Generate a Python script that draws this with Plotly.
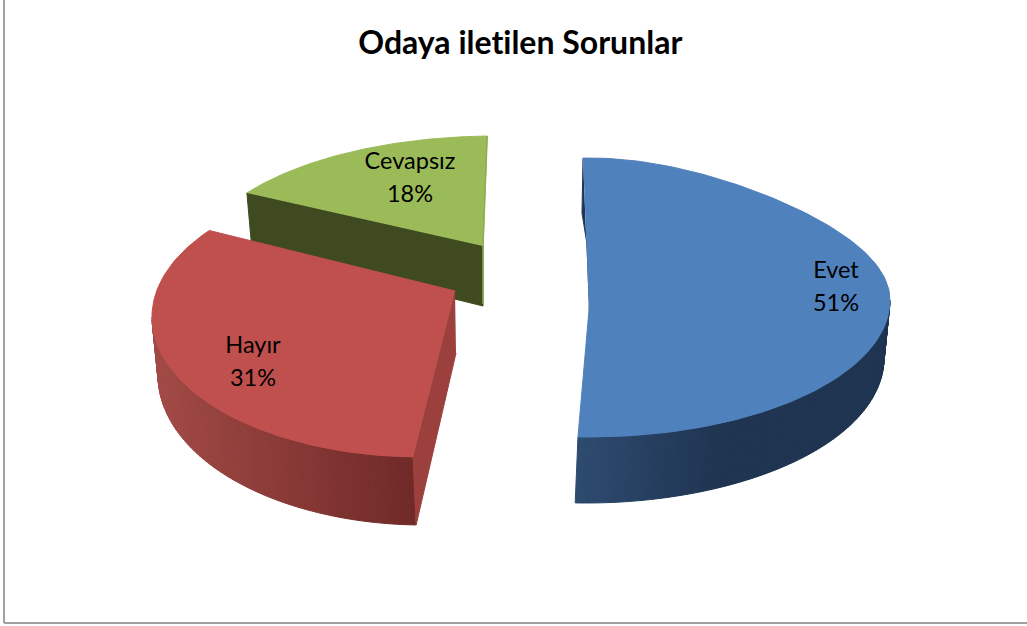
import numpy as np
import plotly.graph_objects as go

categories = ["Evet", "Hayır", "Cevapsız"]
values = [51, 31, 18]
title_text = "Odaya iletilen Sorunlar"

top_colors = ["#4f81bd", "#c0504d", "#9bbb59"]
side_left = [(46, 75, 112), (162, 74, 70), (63, 74, 32)]
side_right = [(30, 52, 80), (112, 42, 40), (63, 74, 32)]
inner_colors = ["#1f3553", "#9c403d", "#3f4a20"]

# projection of each exploded slice onto the picture:
# top ellipse, far-side narrowing, angle remap, apex, and the lower rim ellipse
proj = {
    "Evet": dict(cx=589, cy=300, rx=301, ry_far=142, ry_near=137, k=0.24, start=None, scale=1.0,
                 ax=589, ay=310, bcy=358, brx=295, bry=145, shift=-3),
    "Hayır": dict(cx=420, cy=317, rx=268, ry_far=140, ry_near=140, k=0.0, start=181.5, scale=1.135,
                  ax=455, ay=291, bcy=375, brx=262, bry=150, shift=3),
    "Cevapsız": dict(cx=495, cy=266, rx=300, ry_far=130, ry_near=130, k=0.0, start=304.2, scale=0.838,
                     ax=483, ay=246, bcy=324, brx=300, bry=130, shift=0),
}
rotation = -1.5
label_pos = {"Evet": (836, 272), "Hayır": (253, 347), "Cevapsız": (410, 163)}
label_gap = 33


def remap(p, th, a):
    th = np.asarray(th, dtype=float)
    return th if p["start"] is None else p["start"] + (th - a) * p["scale"]


def arc(p, th):
    r = np.radians(th)
    s, c = np.sin(r), np.cos(r)
    x = p["cx"] + p["rx"] * s * (1 - p["k"] * np.maximum(c, 0) ** 2)
    y = p["cy"] - np.where(c > 0, p["ry_far"], p["ry_near"]) * c
    return x, y


def arc_bottom(p, th):
    r = np.radians(th)
    s, c = np.sin(r), np.cos(r)
    x = p["cx"] + p["brx"] * s + p["shift"] * np.maximum(-c, 0) ** 4
    y = p["bcy"] - p["bry"] * c
    return x, y


def poly(fig, x, y, color):
    fig.add_trace(go.Scatter(x=list(x), y=list(y), mode="lines", fill="toself", fillcolor=color,
                             line=dict(color=color, width=1), hoverinfo="skip", showlegend=False))


def mix(a, b, f):
    return "rgb(%d,%d,%d)" % tuple(round(a[i] + (b[i] - a[i]) * f) for i in range(3))


fig = go.Figure()

total = sum(values)
edges = rotation + np.cumsum([0] + values) / total * 360
spans = {c: (edges[i], edges[i + 1], i) for i, c in enumerate(categories)}

# back to front: green, red, blue
c = "Cevapsız"
a, b, i = spans[c]
p = proj[c]
th = remap(p, np.linspace(a, b, 80), a)
x, y = arc(p, th)
lx, ly = x[0], y[0]
rx_, ry_ = x[-1], y[-1]
poly(fig, [lx, p["ax"], p["ax"], lx + 5, lx], [ly, p["ay"], p["ay"] + 60, ly + 56, ly], inner_colors[i])
poly(fig, list(x) + [p["ax"]], list(y) + [p["ay"]], top_colors[i])
fig.add_trace(go.Scatter(x=[rx_, p["ax"], p["ax"]], y=[ry_, p["ay"], p["ay"] + 58], mode="lines",
                         line=dict(color="#8fab53", width=1.5), hoverinfo="skip", showlegend=False))

c = "Hayır"
a, b, i = spans[c]
p = proj[c]
t0 = remap(p, a, a)
n = 70
th = np.linspace(t0, 270, n + 1)
x, y = arc(p, th)
xb, yb = arc_bottom(p, th)
xmin, xmax = x.min(), x.max()
for j in range(n):
    f = (x[j] - xmin) / (xmax - xmin)
    poly(fig, [x[j], x[j + 1], xb[j + 1], xb[j], x[j]],
         [y[j], y[j + 1], yb[j + 1], yb[j], y[j]], mix(side_left[i], side_right[i], f))
poly(fig, [p["ax"], x[0], xb[0], p["ax"] + 1], [p["ay"], y[0], yb[0], p["ay"] + 62], inner_colors[i])
th = remap(p, np.linspace(a, b, 100), a)
x, y = arc(p, th)
poly(fig, list(x) + [p["ax"]], list(y) + [p["ay"]], top_colors[i])

c = "Evet"
a, b, i = spans[c]
p = proj[c]
n = 100
th = np.linspace(90, b, n + 1)
x, y = arc(p, th)
xb, yb = arc_bottom(p, th)
xmin = x.min()
for j in range(n):
    f = min(1, (x[j] - xmin) / 150)
    poly(fig, [x[j], x[j + 1], xb[j + 1], xb[j], x[j]],
         [y[j], y[j + 1], yb[j + 1], yb[j], y[j]], mix(side_left[i], side_right[i], f))
th = np.linspace(a, b, 140)
x, y = arc(p, th)
sx, sy = x[0], y[0]
poly(fig, [sx, sx - 1, p["ax"] + 3, p["ax"]], [sy, sy + 55, p["ay"] - 35, p["ay"]], inner_colors[i])
poly(fig, list(x) + [p["ax"]], list(y) + [p["ay"]], top_colors[i])

# labels
for cat, val in zip(categories, values):
    lx, ly = label_pos[cat]
    fig.add_trace(go.Scatter(x=[lx, lx], y=[ly, ly + label_gap], mode="text",
                             text=[cat, f"{val}%"], textposition="middle center",
                             textfont=dict(family="Lato, Carlito, sans-serif", size=23.5, color="#000000"),
                             hoverinfo="skip", showlegend=False))

fig.add_shape(type="line", x0=4, x1=4, y0=0, y1=623, line=dict(color="#a0a0a0", width=2))
fig.add_shape(type="line", x0=4, x1=1027, y0=623, y1=623, line=dict(color="#a0a0a0", width=2))
fig.add_annotation(x=520, y=41, text=f"<b>{title_text}</b>", showarrow=False,
                   font=dict(family="Lato, Carlito, sans-serif", size=32, color="#000000"))

fig.update_layout(width=1027, height=626, margin=dict(l=0, r=0, t=0, b=0),
                  paper_bgcolor="white", plot_bgcolor="white", showlegend=False,
                  xaxis=dict(range=[0, 1027], visible=False, fixedrange=True),
                  yaxis=dict(range=[626, 0], visible=False, fixedrange=True))
fig.write_html("out.html", config={"displayModeBar": False},
               post_script="document.body.style.margin='0';document.body.style.overflow='hidden';"
                           "var s=document.createElement('style');"
                           "s.textContent='svg text{font-variant-ligatures:none !important;"
                           "font-feature-settings:\"liga\" 0,\"clig\" 0,\"dlig\" 0,\"calt\" 0 !important;}';"
                           "document.head.appendChild(s);")
